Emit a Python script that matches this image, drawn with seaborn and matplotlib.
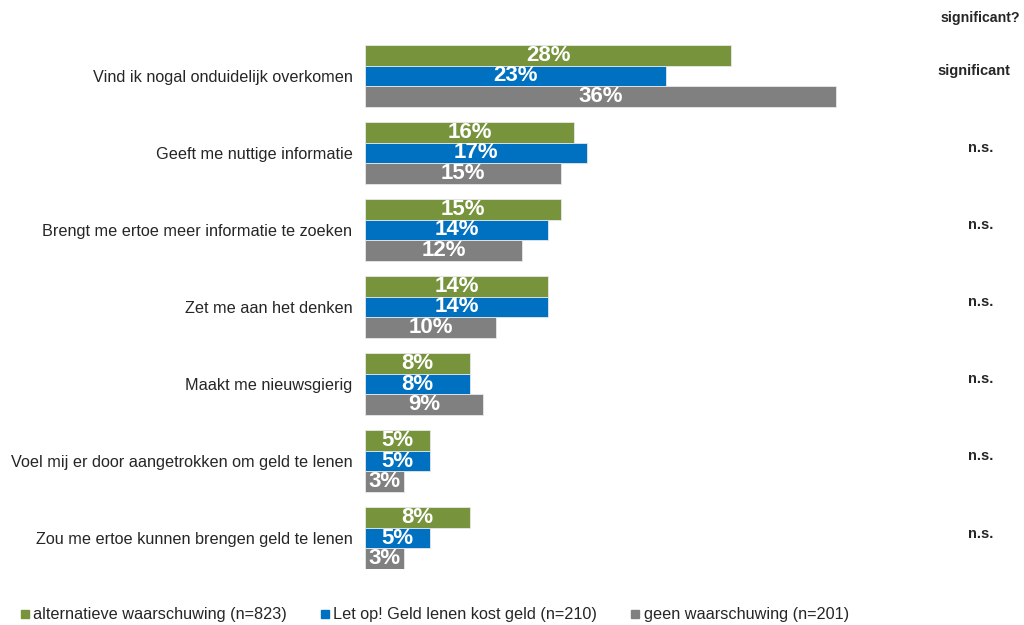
import matplotlib
matplotlib.use("Agg")
import matplotlib.pyplot as plt
import matplotlib.transforms as mtransforms
from matplotlib.lines import Line2D
import pandas as pd
import seaborn as sns

# chart data
categories = [
    "Vind ik nogal onduidelijk overkomen",
    "Geeft me nuttige informatie",
    "Brengt me ertoe meer informatie te zoeken",
    "Zet me aan het denken",
    "Maakt me nieuwsgierig",
    "Voel mij er door aangetrokken om geld te lenen",
    "Zou me ertoe kunnen brengen geld te lenen",
]
series = [
    "alternatieve waarschuwing (n=823)",
    "Let op! Geld lenen kost geld (n=210)",
    "geen waarschuwing (n=201)",
]
alternatief = [28, 16, 15, 14, 8, 5, 8]
let_op = [23, 17, 14, 14, 8, 5, 5]
geen = [36, 15, 12, 10, 9, 3, 3]
significance = ["significant", "n.s.", "n.s.", "n.s.", "n.s.", "n.s.", "n.s."]
colors = ["#77933C", "#0070C0", "#808080"]

sns.set_style("white")
plt.rcParams["font.family"] = ["Liberation Sans", "DejaVu Sans"]

df = pd.DataFrame({
    "categorie": categories * 3,
    "reeks": [series[0]] * 7 + [series[1]] * 7 + [series[2]] * 7,
    "pct": alternatief + let_op + geen,
})

fig = plt.figure(figsize=(10.24, 6.25), dpi=100)
ax = fig.add_axes([365 / 1024, 1 - 569 / 625, 523 / 1024, 524 / 625])

sns.barplot(
    data=df, y="categorie", x="pct", hue="reeks", order=categories,
    hue_order=series, palette=colors, orient="h", width=0.8,
    edgecolor="#e8e8e8", linewidth=0.6, saturation=1, ax=ax, legend=False,
)

for container in ax.containers:
    ax.bar_label(container, labels=[f"{v:.0f}%" for v in container.datavalues],
                 label_type="center", color="white", fontsize=16,
                 fontweight="bold")

ax.set_xlim(0, 40)
ax.set_ylim(6.4, -0.4)
ax.set_xlabel("")
ax.set_ylabel("")
ax.set_xticks([])
ax.tick_params(axis="y", length=0, pad=9, labelsize=11.7)
sns.despine(ax=ax, left=True, bottom=True)

# significance column
trans = mtransforms.blended_transform_factory(fig.transFigure, ax.transData)
fig.text(980 / 1024, 1 - 18 / 625, "significant?", ha="center", va="center",
         fontsize=10.2, fontweight="bold")
for i, s in enumerate(significance):
    ax.text(974 / 1024 if i == 0 else 981 / 1024, i - 0.06, s, transform=trans,
            ha="center", va="center", fontsize=10.5, fontweight="bold")

handles = [Line2D([], [], marker="s", linestyle="", color=c, markersize=6)
           for c in colors]
fig.legend(handles, series, loc="center left", bbox_to_anchor=(0.004, 1 - 615 / 625),
           ncol=3, frameon=False, fontsize=11.7, handletextpad=0.1,
           handlelength=0.8, columnspacing=1.95)

fig.savefig("out.png", dpi=100)
